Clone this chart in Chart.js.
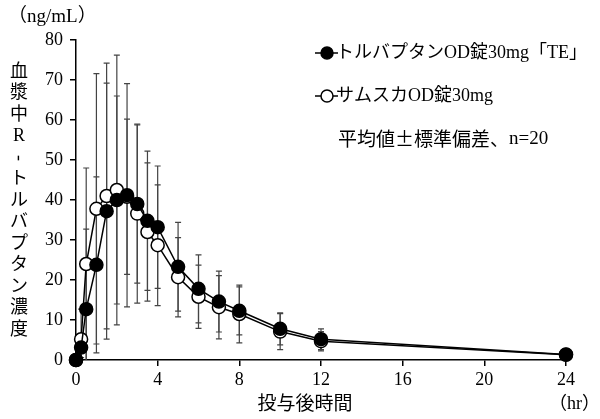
<!DOCTYPE html>
<html>
<head>
<meta charset="utf-8">
<script src="https://cdn.jsdelivr.net/npm/chart.js@4"></script>
<style>
  html, body { margin: 0; padding: 0; background: #fff; }
  #wrap { position: relative; width: 600px; height: 419px; }
</style>
</head>
<body>
<div id="wrap"><canvas id="chart" width="600" height="419"></canvas></div>
<script>
// time after dosing (hr)
const times = [0, 0.25, 0.5, 1, 1.5, 2, 2.5, 3, 3.5, 4, 5, 6, 7, 8, 10, 12, 24];

// トルバプタンOD錠30mg「TE」 mean and SD (ng/mL)
const teMean = [0, 3.1, 12.7, 23.8, 37.2, 40.0, 41.2, 39.0, 34.8, 33.2, 23.3, 17.8, 14.6, 12.3, 7.8, 5.2, 1.4];
const teSd   = [0, 2.5, 20.0, 22.0, 32.0, 26.0, 27.9, 19.8, 17.4, 15.3, 11.1, 8.5, 7.6, 6.0, 4.0, 2.6, 0.8];

// サムスカOD錠30mg mean and SD (ng/mL)
const samMean = [0, 5.2, 24.0, 37.8, 41.0, 42.5, 40.8, 36.6, 32.0, 28.7, 20.7, 15.8, 13.2, 11.5, 7.1, 4.7, 1.3];
const samSd   = [0, 7.5, 24.0, 33.8, 33.2, 33.7, 19.4, 22.4, 17.3, 15.1, 9.9, 7.9, 7.9, 7.2, 4.5, 2.4, 0.7];

const seriesLabels = ['トルバプタンOD錠30mg「TE」', 'サムスカOD錠30mg'];
const noteJa = '平均値±標準偏差、';
const noteN = 'n=20';
const yTitle = '血漿中R-トルバプタン濃度';
const yUnit = '（ng/mL）';
const xTitle = '投与後時間';
const xUnit = '（hr）';

const FONT = "'Liberation Serif', 'Noto Sans CJK JP', serif";
const JA_FONT = "'Noto Sans CJK JP', serif";

const toPoints = (means) => times.map((t, i) => ({ x: t, y: means[i] }));

// vertical SD bars, drawn behind the markers
const errorBars = {
  id: 'errorBars',
  beforeDatasetsDraw(chart) {
    const { ctx, scales: { x, y } } = chart;
    const sds = [teSd, samSd];
    const means = [teMean, samMean];
    ctx.save();
    ctx.strokeStyle = '#444';
    ctx.lineWidth = 1.2;
    for (let d = 1; d >= 0; d--) {
      times.forEach((t, i) => {
        if (!sds[d][i]) return;
        const px = x.getPixelForValue(t);
        const top = y.getPixelForValue(means[d][i] + sds[d][i]);
        const bot = y.getPixelForValue(Math.max(0, means[d][i] - sds[d][i]));
        ctx.beginPath();
        ctx.moveTo(px, top); ctx.lineTo(px, bot);
        ctx.moveTo(px - 3, top); ctx.lineTo(px + 3, top);
        if (means[d][i] - sds[d][i] > 0) {
          ctx.moveTo(px - 3, bot); ctx.lineTo(px + 3, bot);
        }
        ctx.stroke();
      });
    }
    ctx.restore();
  }
};

// legend, note and axis titles
const labels = {
  id: 'labels',
  afterDraw(chart) {
    const ctx = chart.ctx;
    ctx.save();
    ctx.fillStyle = '#000';
    ctx.strokeStyle = '#000';
    ctx.textBaseline = 'middle';

    // legend
    const rows = [53, 96];
    rows.forEach((ly, i) => {
      ctx.lineWidth = 1.5;
      ctx.beginPath();
      ctx.moveTo(315, ly); ctx.lineTo(338, ly);
      ctx.stroke();
      ctx.beginPath();
      ctx.arc(327, ly, 6, 0, Math.PI * 2);
      ctx.fillStyle = i === 0 ? '#000' : '#fff';
      ctx.fill();
      ctx.stroke();
      ctx.fillStyle = '#000';
      ctx.font = '18px ' + FONT;
      ctx.textAlign = 'left';
      ctx.fillText(seriesLabels[i], 336, ly);
    });
    ctx.font = '19px ' + JA_FONT;
    ctx.fillText(noteJa, 338, 139);
    const w = ctx.measureText(noteJa).width;
    ctx.font = '19px ' + FONT;
    ctx.fillText(noteN, 338 + w, 139);

    // units
    ctx.font = '19px ' + FONT;
    ctx.textAlign = 'left';
    ctx.fillText(yUnit, 8, 17);
    ctx.font = '18px ' + FONT;
    ctx.fillText(xUnit, 549, 404);

    // x title
    ctx.font = '19px ' + FONT;
    ctx.textAlign = 'center';
    ctx.fillText(xTitle, 305, 405);

    // vertical y title, one glyph per row
    ctx.font = '18px ' + FONT;
    [...yTitle].forEach((ch, i) => {
      const cy = 72 + i * 21.5;
      if (ch === '-') {
        ctx.save();
        ctx.translate(19, cy);
        ctx.rotate(Math.PI / 2);
        ctx.fillText(ch, 0, 0);
        ctx.restore();
      } else {
        ctx.fillText(ch, 19, cy);
      }
    });
    ctx.restore();
  }
};

new Chart(document.getElementById('chart'), {
  type: 'line',
  data: {
    datasets: [
      {
        label: seriesLabels[0],
        data: toPoints(teMean),
        borderColor: '#000',
        backgroundColor: '#000',
        borderWidth: 1.5,
        pointRadius: 6.5,
        pointBorderWidth: 1.5,
        pointBackgroundColor: '#000',
        pointBorderColor: '#000',
        clip: false
      },
      {
        label: seriesLabels[1],
        data: toPoints(samMean),
        borderColor: '#000',
        backgroundColor: '#fff',
        borderWidth: 1.5,
        pointRadius: 6.5,
        pointBorderWidth: 1.5,
        pointBackgroundColor: '#fff',
        pointBorderColor: '#000',
        clip: false
      }
    ]
  },
  options: {
    responsive: false,
    animation: false,
    layout: { padding: { top: 40, right: 34, left: 0, bottom: 0 } },
    plugins: { legend: { display: false }, tooltip: { enabled: false } },
    scales: {
      x: {
        type: 'linear',
        min: 0, max: 24,
        afterFit: (s) => { s.height = 59; },
        ticks: { stepSize: 4, color: '#000', font: { family: FONT, size: 18 }, padding: 3, maxRotation: 0 },
        grid: { drawOnChartArea: false, drawTicks: true, tickLength: 6, color: '#000', lineWidth: 1.5 },
        border: { display: true, color: '#000', width: 1.5 }
      },
      y: {
        min: 0, max: 80,
        afterFit: (s) => { s.width = 76; },
        ticks: { stepSize: 10, color: '#000', font: { family: FONT, size: 18 }, padding: 7 },
        grid: { drawOnChartArea: false, drawTicks: true, tickLength: 6, color: '#000', lineWidth: 1.5 },
        border: { display: true, color: '#000', width: 1.5 }
      }
    }
  },
  plugins: [errorBars, labels]
});
</script>
</body>
</html>
